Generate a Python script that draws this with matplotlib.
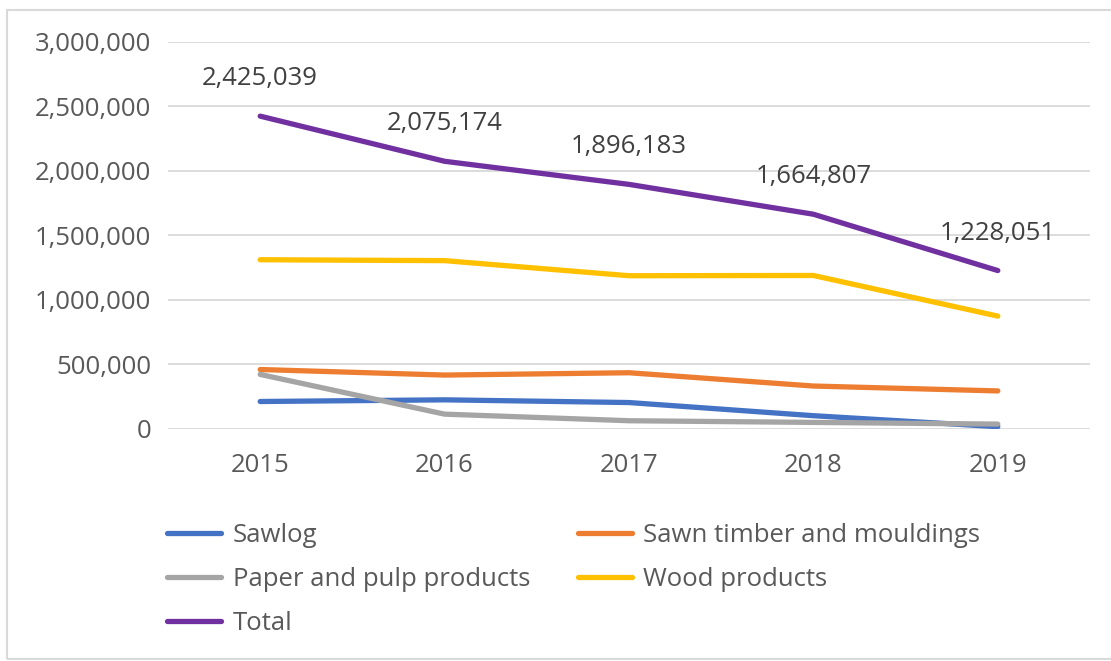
import matplotlib as mpl
mpl.use('Agg')
import matplotlib.pyplot as plt
from matplotlib.patches import Rectangle
from matplotlib.ticker import FuncFormatter

plt.rcParams['font.family'] = ['Open Sans', 'DejaVu Sans']

years = ['2015', '2016', '2017', '2018', '2019']
sawlog = [213000, 226000, 205000, 103000, 18000]
sawn_timber = [461000, 418000, 436000, 333000, 295000]
paper_pulp = [423000, 115000, 64000, 51000, 38000]
wood_products = [1312000, 1305000, 1188000, 1190000, 875000]
total = [2425039, 2075174, 1896183, 1664807, 1228051]

series = [
    ('Sawlog', sawlog, '#4472C4'),
    ('Sawn timber and mouldings', sawn_timber, '#ED7D31'),
    ('Paper and pulp products', paper_pulp, '#A5A5A5'),
    ('Wood products', wood_products, '#FFC000'),
    ('Total', total, '#7030A0'),
]

axis_grey = '#595959'
fs = 18.5

fig = plt.figure(figsize=(11.11, 6.61), dpi=100)
ax = fig.add_axes([0.1512, 0.351, 0.8299, 0.5855])

x = list(range(len(years)))
lines = {}
for name, vals, col in series:
    ln, = ax.plot(x, vals, color=col, lw=3.8, solid_capstyle='round', zorder=3)
    lines[name] = ln

# value labels on the total line
for i, v in enumerate(total):
    ax.annotate('{:,}'.format(v), (i, v), xytext=(0, 27), textcoords='offset points',
                ha='center', va='center', fontsize=fs, color='#404040')

ax.set_xlim(-0.5, len(years) - 0.5)
ax.set_ylim(0, 3000000)
ax.set_yticks(range(0, 3000001, 500000))
ax.yaxis.set_major_formatter(FuncFormatter(lambda v, p: '{:,}'.format(int(v))))
ax.set_xticks(x)
ax.set_xticklabels(years)
ax.tick_params(axis='both', length=0, labelsize=fs, colors=axis_grey)
ax.tick_params(axis='y', pad=12)
ax.tick_params(axis='x', pad=17)
ax.grid(axis='y', color='#D9D9D9', lw=1.3)
ax.set_axisbelow(True)
for s in ax.spines.values():
    s.set_visible(False)

# legend in excel order: two columns, filled column by column
order = ['Sawlog', 'Paper and pulp products', 'Total', 'Sawn timber and mouldings', 'Wood products']
leg = fig.legend([lines[n] for n in order], order, ncol=2, frameon=False,
                 loc='upper left', bbox_to_anchor=(0.139, 0.228),
                 fontsize=fs, handlelength=2.1, handletextpad=0.45,
                 columnspacing=1.85, labelspacing=0.74, borderpad=0)
for t in leg.get_texts():
    t.set_color(axis_grey)

# chart area border
fig.patches.append(Rectangle((0.0063, 0.003), 1.2, 0.982, transform=fig.transFigure,
                             fill=False, edgecolor='#D9D9D9', lw=1.5))

fig.savefig('out.png', dpi=100)
